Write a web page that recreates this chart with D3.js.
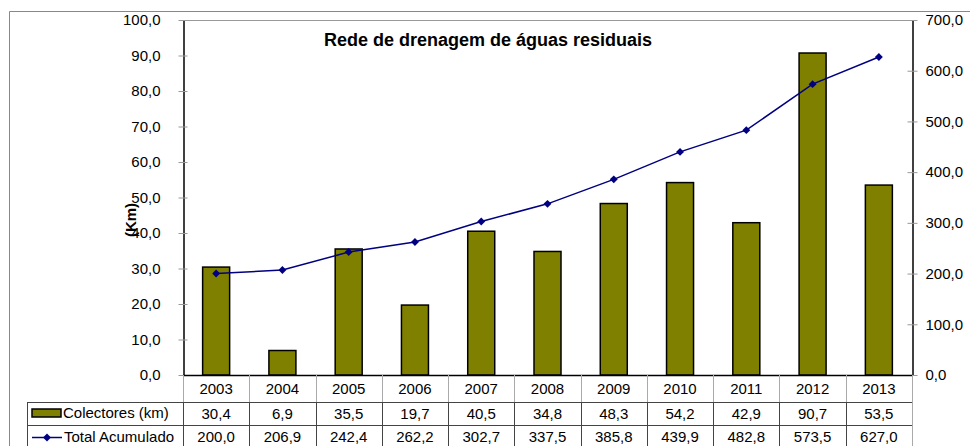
<!DOCTYPE html>
<html>
<head>
<meta charset="utf-8">
<script src="https://cdnjs.cloudflare.com/ajax/libs/d3/7.8.5/d3.min.js"></script>
<style>
  body { margin: 0; background: #fff; }
  text { font-family: Arial, "Liberation Sans", sans-serif; fill: #000; }
</style>
</head>
<body>
<svg class="chart"></svg>
<script>
// Data
var years = ["2003", "2004", "2005", "2006", "2007", "2008", "2009", "2010", "2011", "2012", "2013"];
var colectores = [30.4, 6.9, 35.5, 19.7, 40.5, 34.8, 48.3, 54.2, 42.9, 90.7, 53.5];
var totalAcumulado = [200.0, 206.9, 242.4, 262.2, 302.7, 337.5, 385.8, 439.9, 482.8, 573.5, 627.0];
var leftTicks = [0, 10, 20, 30, 40, 50, 60, 70, 80, 90, 100];
var rightTicks = [0, 100, 200, 300, 400, 500, 600, 700];

var W = 970, H = 446;
var plot = { left: 183, right: 912, top: 20, bottom: 375 };

var svg = d3.select(".chart").attr("width", W).attr("height", H);

// decimal comma
var fmt = function (v) { return d3.format(".1f")(v).replace(".", ","); };

var x = d3.scaleBand().domain(years).range([plot.left, plot.right]);
var y = d3.scaleLinear().domain([0, 100]).range([plot.bottom, plot.top]);
var y2 = d3.scaleLinear().domain([0, 700]).range([plot.bottom, plot.top]);

// outer frame
svg.append("path")
    .attr("d", "M9.5," + H + "V11.5H" + W)
    .attr("fill", "none").attr("stroke", "#888").attr("stroke-width", 1);

// plot top border
svg.append("line")
    .attr("x1", plot.left).attr("x2", plot.right)
    .attr("y1", plot.top + 0.5).attr("y2", plot.top + 0.5)
    .attr("stroke", "#999");

// Title
svg.append("text")
    .attr("x", 488).attr("y", 46)
    .attr("text-anchor", "middle")
    .style("font-weight", "bold").style("font-size", "18px")
    .text("Rede de drenagem de águas residuais");

// Bars
svg.selectAll(".bar")
    .data(colectores)
    .enter().append("rect")
    .attr("class", "bar")
    .attr("x", function (d, i) { return x(years[i]) + x.bandwidth() / 2 - 13.5; })
    .attr("y", function (d) { return y(d); })
    .attr("width", 27)
    .attr("height", function (d) { return plot.bottom - y(d); })
    .attr("fill", "#808000")
    .attr("stroke", "#000").attr("stroke-width", 1.5);

// Left axis
var yAxis = d3.axisLeft(y).tickValues(leftTicks).tickFormat(fmt).tickSize(0).tickPadding(23);
var gy = svg.append("g").attr("transform", "translate(" + (plot.left + 0.5) + ",0)").call(yAxis);
gy.select(".domain").attr("stroke", "#000").attr("stroke-width", 1.5);
gy.selectAll(".tick text").style("font-size", "15px").attr("fill", "#000");
gy.selectAll(".tick").append("line").attr("x1", -5).attr("x2", 4).attr("stroke", "#999");

// Right axis
var yAxis2 = d3.axisRight(y2).tickValues(rightTicks).tickFormat(fmt).tickSize(0).tickPadding(13);
var gy2 = svg.append("g").attr("transform", "translate(" + (plot.right + 0.5) + ",0)").call(yAxis2);
gy2.select(".domain").attr("stroke", "#000").attr("stroke-width", 1.5);
gy2.selectAll(".tick text").style("font-size", "15px").attr("fill", "#000");
gy2.selectAll(".tick").append("line").attr("x1", -5).attr("x2", 5).attr("stroke", "#999");

// x axis line
svg.append("line")
    .attr("x1", plot.left).attr("x2", plot.right)
    .attr("y1", plot.bottom + 0.5).attr("y2", plot.bottom + 0.5)
    .attr("stroke", "#000").attr("stroke-width", 1.5);

// Y label
svg.append("text")
    .attr("transform", "translate(136,220) rotate(-90)")
    .attr("text-anchor", "middle")
    .style("font-weight", "bold").style("font-size", "15px")
    .text("(Km)");

// Line series
var line = d3.line()
    .x(function (d, i) { return x(years[i]) + x.bandwidth() / 2; })
    .y(function (d) { return y2(d); });

svg.append("path")
    .datum(totalAcumulado)
    .attr("d", line)
    .attr("fill", "none").attr("stroke", "#000080").attr("stroke-width", 1.5);

var diamond = d3.symbol().type(d3.symbolDiamond2).size(40);
svg.selectAll(".pt")
    .data(totalAcumulado)
    .enter().append("path")
    .attr("class", "pt")
    .attr("d", diamond)
    .attr("transform", function (d, i) {
        return "translate(" + (x(years[i]) + x.bandwidth() / 2) + "," + y2(d) + ")";
    })
    .attr("fill", "#000080");

// Data table
var rowYear = [plot.bottom, 402], row1 = [402, 425], row2 = [425, 448];
var tableLeft = 27;

// year row verticals
svg.selectAll(".vYear")
    .data(years.concat(["end"]))
    .enter().append("line")
    .attr("x1", function (d, i) { return Math.round(plot.left + i * x.step()) + 0.5; })
    .attr("x2", function (d, i) { return Math.round(plot.left + i * x.step()) + 0.5; })
    .attr("y1", rowYear[0]).attr("y2", rowYear[1])
    .attr("stroke", "#aaa");

// data row verticals
svg.selectAll(".vData")
    .data(years.concat(["end"]))
    .enter().append("line")
    .attr("x1", function (d, i) { return Math.round(plot.left + i * x.step()) + 0.5; })
    .attr("x2", function (d, i) { return Math.round(plot.left + i * x.step()) + 0.5; })
    .attr("y1", row1[0]).attr("y2", row2[1])
    .attr("stroke", function (d, i) { return i === years.length ? "#aaa" : "#444"; });

svg.append("line")
    .attr("x1", tableLeft + 0.5).attr("x2", tableLeft + 0.5)
    .attr("y1", row1[0]).attr("y2", row2[1]).attr("stroke", "#444");

[row1[0], row2[0]].forEach(function (yy) {
    svg.append("line")
        .attr("x1", tableLeft).attr("x2", plot.right)
        .attr("y1", yy + 0.5).attr("y2", yy + 0.5)
        .attr("stroke", "#444");
});

function rowText(vals, rr, f) {
    svg.append("g").selectAll("text")
        .data(vals)
        .enter().append("text")
        .attr("x", function (d, i) { return x(years[i]) + x.bandwidth() / 2; })
        .attr("y", (rr[0] + rr[1]) / 2 + 5)
        .attr("text-anchor", "middle")
        .style("font-size", "15px")
        .text(f);
}
rowText(years, rowYear, function (d) { return d; });
rowText(colectores, row1, fmt);
rowText(totalAcumulado, row2, fmt);

// Legend keys in table
svg.append("rect")
    .attr("x", 32).attr("y", 409).attr("width", 29).attr("height", 8)
    .attr("fill", "#808000").attr("stroke", "#000").attr("stroke-width", 1.5);
svg.append("text").attr("x", 63).attr("y", 418).style("font-size", "15px").text("Colectores (km)");

svg.append("line")
    .attr("x1", 32).attr("x2", 62).attr("y1", 437.5).attr("y2", 437.5)
    .attr("stroke", "#000080").attr("stroke-width", 1.5);
svg.append("path")
    .attr("d", diamond)
    .attr("transform", "translate(47,437.5)")
    .attr("fill", "#000080");
svg.append("text").attr("x", 64).attr("y", 442).style("font-size", "15px").text("Total Acumulado");
</script>
</body>
</html>
